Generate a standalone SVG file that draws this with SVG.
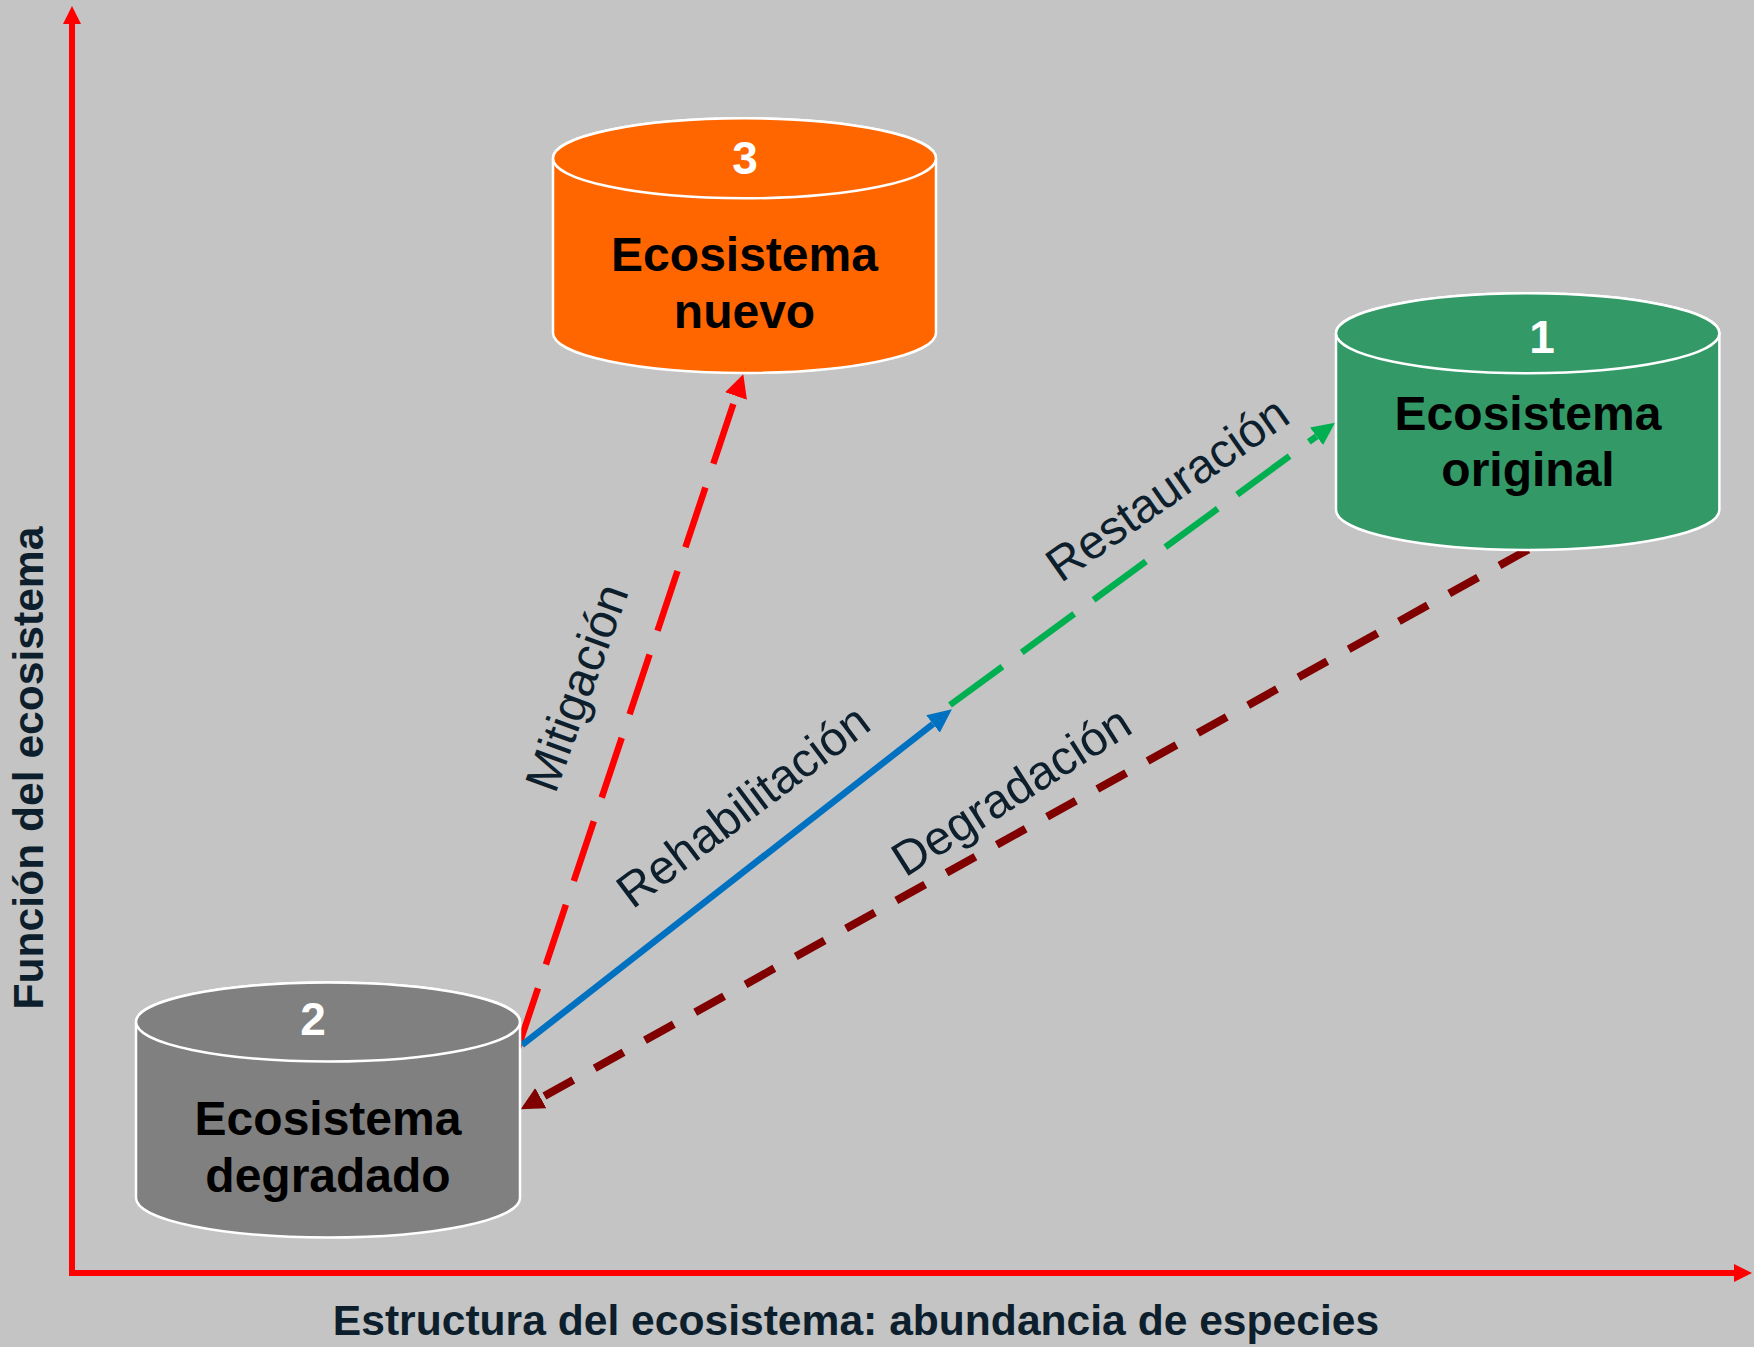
<svg xmlns="http://www.w3.org/2000/svg" width="1754" height="1347" viewBox="0 0 1754 1347">
  <style>
    .cyl { stroke: #FFFFFF; stroke-width: 2.5; }
    .num { font-family: "Liberation Sans", Arial, sans-serif; font-weight: bold; font-size: 46px; fill: #FFFFFF; text-anchor: middle; }
    .name { font-family: "Liberation Sans", Arial, sans-serif; font-weight: bold; font-size: 48px; fill: #000000; text-anchor: middle; }
    .lbl { font-family: "Liberation Sans", Arial, sans-serif; font-size: 48px; fill: #0D1F2D; text-anchor: middle; }
    .axislbl { font-family: "Liberation Sans", Arial, sans-serif; font-weight: bold; font-size: 42.6px; fill: #0D1F2D; text-anchor: middle; }
    .conn { fill: none; stroke-linecap: butt; }
  </style>
  <defs>
    <marker id="mRed" markerUnits="userSpaceOnUse" markerWidth="23" markerHeight="23" viewBox="0 0 23 23" refX="0" refY="11.5" orient="auto">
      <path d="M0,0 L23,11.5 L0,23 Z" fill="#FF0000"/>
    </marker>
    <marker id="mBlue" markerUnits="userSpaceOnUse" markerWidth="24" markerHeight="22" viewBox="0 0 24 22" refX="0" refY="11" orient="auto">
      <path d="M0,0 L24,11 L0,22 Z" fill="#0070C0"/>
    </marker>
    <marker id="mGreen" markerUnits="userSpaceOnUse" markerWidth="23" markerHeight="22" viewBox="0 0 23 22" refX="0" refY="11" orient="auto">
      <path d="M0,0 L23,11 L0,22 Z" fill="#00B050"/>
    </marker>
    <marker id="mDark" markerUnits="userSpaceOnUse" markerWidth="23" markerHeight="23" viewBox="0 0 23 23" refX="0" refY="11.5" orient="auto">
      <path d="M0,0 L23,11.5 L0,23 Z" fill="#800000"/>
    </marker>
  </defs>

  <rect x="0" y="0" width="1754" height="1347" fill="#C4C4C4"/>

  <!-- Axes -->
  <g id="axes">
    <line x1="72" y1="1276" x2="72" y2="23" stroke="#FF0000" stroke-width="6"/>
    <polygon points="72,6 63,24 81,24" fill="#FF0000"/>
    <line x1="69" y1="1273" x2="1735" y2="1273" stroke="#FF0000" stroke-width="6"/>
    <polygon points="1752,1273 1734,1264 1734,1282" fill="#FF0000"/>
    <text class="axislbl" transform="translate(43,768) rotate(-90)" x="0" y="0">Función del ecosistema</text>
    <text class="axislbl" x="856" y="1335">Estructura del ecosistema: abundancia de especies</text>
  </g>

  <!-- Connectors -->
  <g id="connectors">
    <line class="conn" x1="1528.3" y1="549.5" x2="540.8" y2="1098.1" stroke="#800000" stroke-width="8" stroke-dasharray="33 24.5" marker-end="url(#mDark)"/>
    <line class="conn" x1="518" y1="1048" x2="736" y2="396" stroke="#FF0000" stroke-width="6.5" stroke-dasharray="63 25" marker-end="url(#mRed)"/>
    <line class="conn" x1="522" y1="1045" x2="933" y2="724" stroke="#0070C0" stroke-width="6.5" marker-end="url(#mBlue)"/>
    <line class="conn" x1="950" y1="705" x2="1316.5" y2="436.3" stroke="#00B050" stroke-width="6.5" stroke-dasharray="65 24" marker-end="url(#mGreen)"/>
    <text class="lbl" transform="translate(578,688) rotate(-70)" x="0" y="15">Mitigación</text>
    <text class="lbl" transform="translate(744,807) rotate(-37)" x="0" y="15">Rehabilitación</text>
    <text class="lbl" transform="translate(1168,490) rotate(-35)" x="0" y="15">Restauración</text>
    <text class="lbl" transform="translate(1012,792) rotate(-32.5)" x="0" y="15">Degradación</text>
  </g>

  <!-- Node 2: degraded -->
  <g id="node-degradado">
    <path class="cyl" fill="#808080" d="M136,1022 L136,1198 A192,39.5 0 0 0 520,1198 L520,1022 A192,39.5 0 0 0 136,1022 Z"/>
    <ellipse class="cyl" fill="#808080" cx="328" cy="1022" rx="192" ry="39.5"/>
    <text class="num" x="313" y="1035">2</text>
    <text class="name" x="328" y="1135">Ecosistema</text>
    <text class="name" x="328" y="1192">degradado</text>
  </g>

  <!-- Node 3: new -->
  <g id="node-nuevo">
    <path class="cyl" fill="#FF6600" d="M553,158.3 L553,333 A191.5,40 0 0 0 936,333 L936,158.3 A191.5,40 0 0 0 553,158.3 Z"/>
    <ellipse class="cyl" fill="#FF6600" cx="744.5" cy="158.3" rx="191.5" ry="40"/>
    <text class="num" x="745" y="174">3</text>
    <text class="name" x="744.5" y="271">Ecosistema</text>
    <text class="name" x="744.5" y="328">nuevo</text>
  </g>

  <!-- Node 1: original -->
  <g id="node-original">
    <path class="cyl" fill="#339966" d="M1336,333.3 L1336,510 A191.7,40 0 0 0 1719.4,510 L1719.4,333.3 A191.7,40 0 0 0 1336,333.3 Z"/>
    <ellipse class="cyl" fill="#339966" cx="1527.7" cy="333.3" rx="191.7" ry="40"/>
    <text class="num" x="1542" y="353">1</text>
    <text class="name" x="1528" y="430">Ecosistema</text>
    <text class="name" x="1528" y="486">original</text>
  </g>
</svg>
